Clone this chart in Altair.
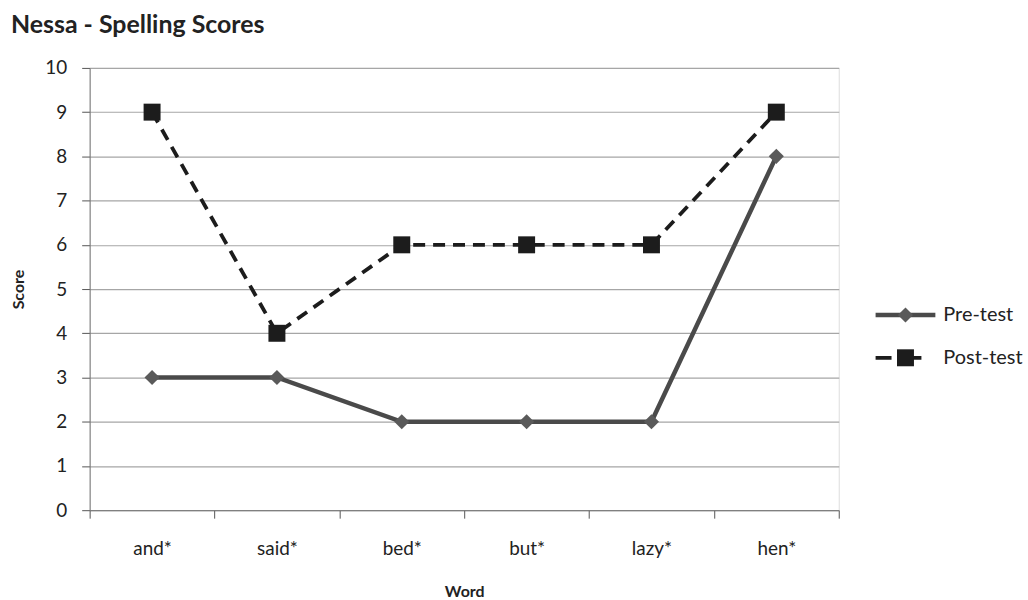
import altair as alt
import pandas as pd

# Spelling scores per word, before and after the intervention
words = ["and*", "said*", "bed*", "but*", "lazy*", "hen*"]
pre_test = [3, 3, 2, 2, 2, 8]
post_test = [9, 4, 6, 6, 6, 9]
series = ["Pre-test", "Post-test"]

FONT = "Lato"
INK = "#222222"

rows = []
for w, a, b in zip(words, pre_test, post_test):
    rows.append({"Word": w, "Score": a, "Series": "Pre-test"})
    rows.append({"Word": w, "Score": b, "Series": "Post-test"})
df = pd.DataFrame(rows)
pre_df = df[df.Series == "Pre-test"]
post_df = df[df.Series == "Post-test"]

axis_style = dict(
    labelFont=FONT, titleFont=FONT, labelFontSize=19, titleFontSize=16,
    labelColor=INK, titleColor=INK, titleFontWeight="bold",
    tickSize=8, tickColor="#555555", domainColor="#777777",
)

x_enc = alt.X(
    "Word:N",
    sort=words,
    scale=alt.Scale(paddingInner=0, paddingOuter=0),
    axis=alt.Axis(
        title="Word", labelAngle=0, tickBand="extent",
        labelPadding=21, titlePadding=26, grid=False, **axis_style,
    ),
)
y_enc = alt.Y(
    "Score:Q",
    scale=alt.Scale(domain=[0, 10], nice=False),
    axis=alt.Axis(
        title="Score", values=list(range(0, 11)),
        gridColor="#a6a6a6", gridWidth=1.2,
        labelPadding=15, titlePadding=18, **axis_style,
    ),
)

pre_line = alt.Chart(pre_df).mark_line(color="#4a4a4a", strokeWidth=4.5)
pre_pts = alt.Chart(pre_df).mark_point(
    shape="diamond", filled=True, color="#5a5a5a", size=230, opacity=1
)
post_line = alt.Chart(post_df).mark_line(
    color="#1c1c1c", strokeWidth=3.8, strokeDash=[12, 8]
)
post_pts = alt.Chart(post_df).mark_point(
    shape="square", filled=True, color="#1c1c1c", size=290, opacity=1
)
main = alt.layer(post_line, pre_line, pre_pts, post_pts).encode(x=x_enc, y=y_enc)

# Legend drawn on its own scales beside the plot
leg_rows = pd.DataFrame([{"Series": s, "x0": 0, "x1": 1, "xm": 0.5} for s in series])
lx = alt.Scale(domain=[0, 1], range=[789, 849])
ly = alt.Scale(domain=series, range=[248, 291], type="point", padding=0)
LX0 = alt.X("x0:Q", scale=lx, axis=None)
LXM = alt.X("xm:Q", scale=lx, axis=None)
LX1 = alt.X("x1:Q", scale=lx, axis=None)
LY = alt.Y("Series:N", scale=ly, axis=None)

leg_pre = alt.Chart(leg_rows[leg_rows.Series == "Pre-test"])
leg_post = alt.Chart(leg_rows[leg_rows.Series == "Post-test"])

legend = alt.layer(
    leg_pre.mark_rule(color="#4a4a4a", strokeWidth=4.5).encode(x=LX0, x2="x1:Q", y=LY),
    leg_post.mark_rule(color="#1c1c1c", strokeWidth=3.8, strokeDash=[16, 14]).encode(x=LX0, x2="x1:Q", y=LY),
    leg_pre.mark_point(shape="diamond", filled=True, color="#5a5a5a", size=230, opacity=1).encode(x=LXM, y=LY),
    leg_post.mark_point(shape="square", filled=True, color="#1c1c1c", size=290, opacity=1).encode(x=LXM, y=LY),
    alt.Chart(leg_rows).mark_text(
        align="left", dx=8, fontSize=20, font=FONT, color=INK
    ).encode(x=LX1, y=LY, text="Series:N"),
)

chart = (
    alt.layer(main, legend)
    .resolve_scale(x="independent", y="independent")
    .properties(
        width=752,
        height=444,
        padding={"left": 10, "top": 12, "right": 5, "bottom": 5},
        title=alt.TitleParams(
            "Nessa - Spelling Scores", anchor="start", frame="bounds",
            fontSize=25, font=FONT, fontWeight="bold", color=INK, offset=21,
        ),
    )
    .configure_view(stroke=None)
    .configure(background="white")
)

chart.save("out.html", embed_options={"renderer": "svg", "actions": False})
